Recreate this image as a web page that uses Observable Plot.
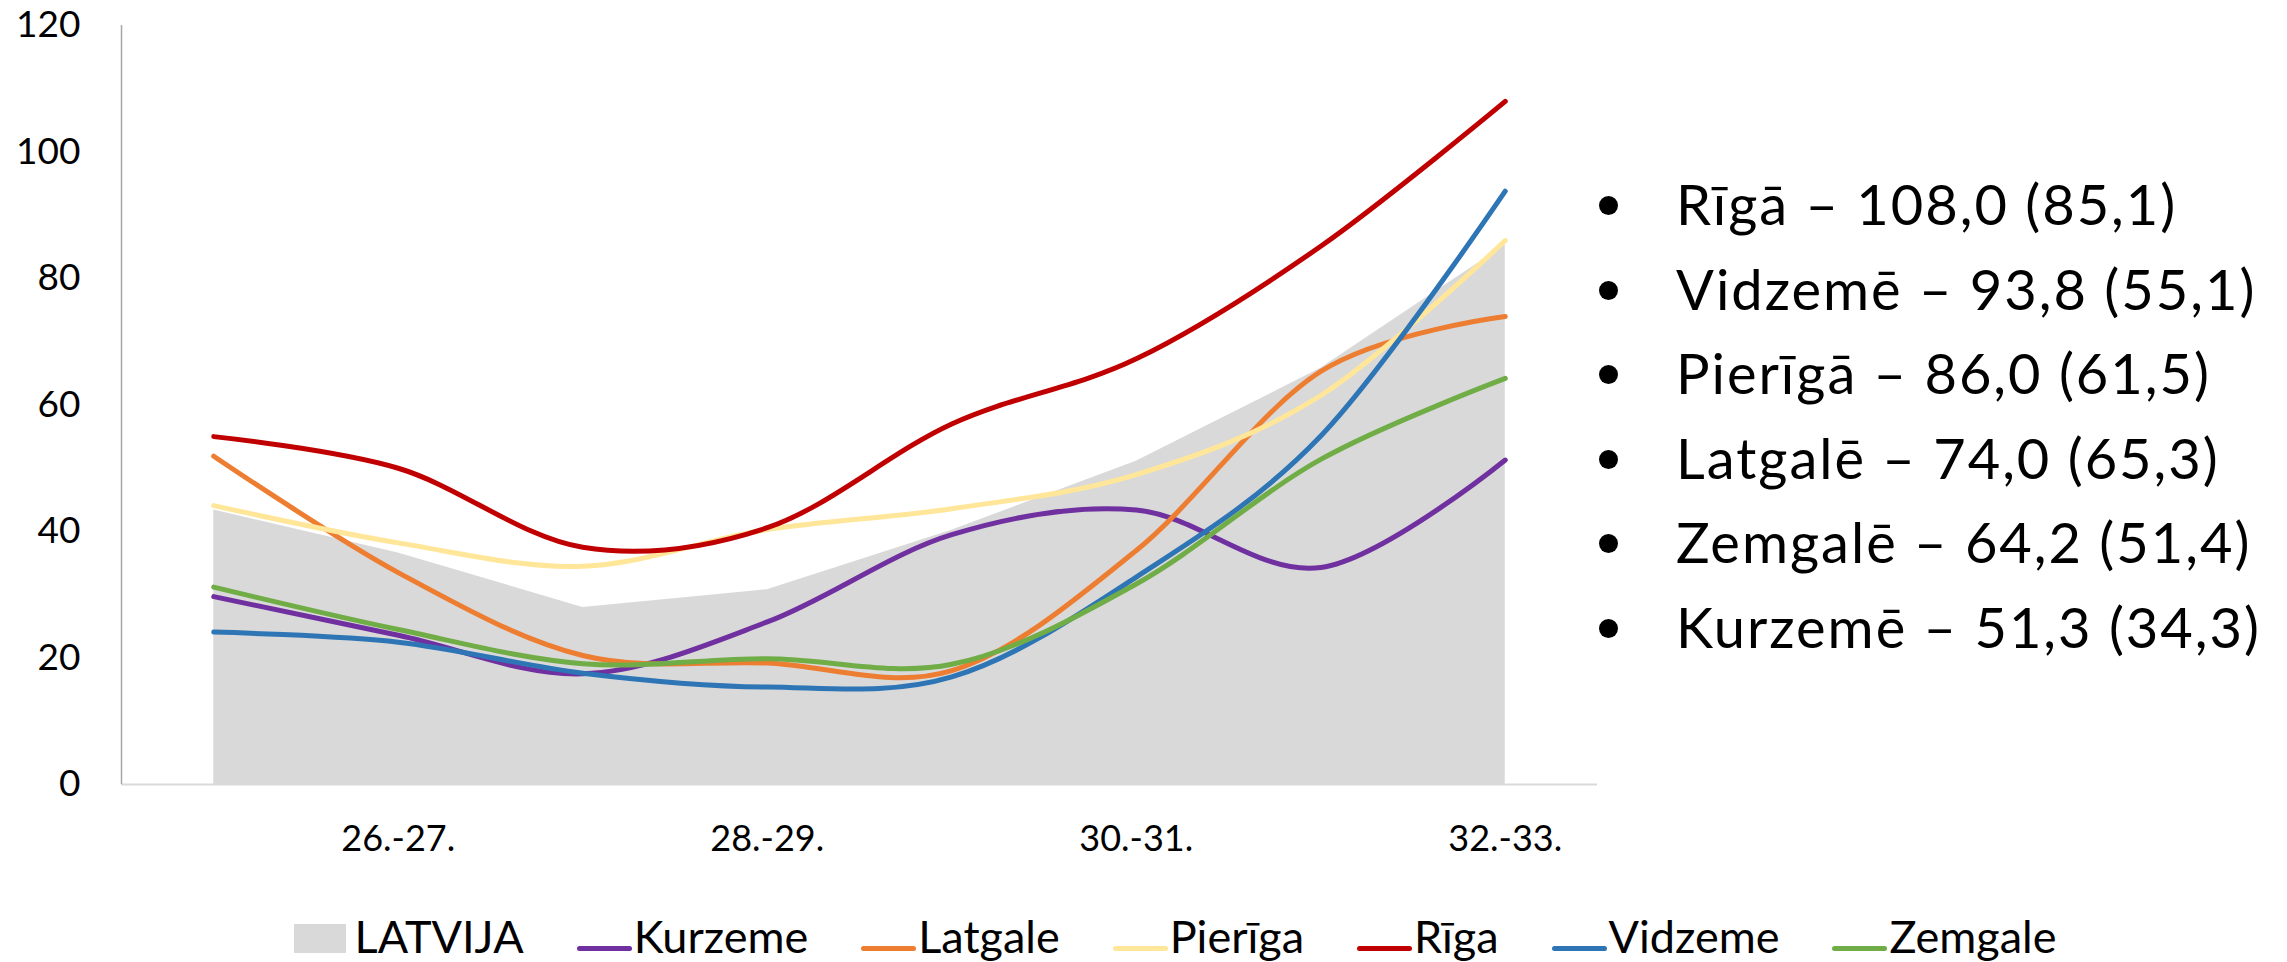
<!DOCTYPE html>
<html>
<head>
<meta charset="utf-8">
<script src="https://cdn.jsdelivr.net/npm/d3@7"></script>
<script src="https://cdn.jsdelivr.net/npm/@observablehq/plot@0.6"></script>
<style>
  body { margin: 0; background: #fff; font-family: Lato, sans-serif; }
  #wrap { position: relative; width: 2287px; height: 962px; overflow: hidden; }
  #chart { position: absolute; left: 0; top: 0; }
  #legend { position: absolute; left: 282px; top: 906px; width: 1786px; height: 60px;
            display: flex; justify-content: center; font-size: 45px; line-height: 60px; color: #000; white-space: nowrap; }
  #legend .item { margin-right: 53px; }
  #legend .item:last-child { margin-right: 0; }
  #legend .sw-rect { display: inline-block; width: 52px; height: 29px; vertical-align: baseline; margin-right: 9px; }
  #legend .sw-line { display: inline-block; width: 55px; height: 5px; border-radius: 3px; vertical-align: baseline; margin-bottom: 2px; margin-right: 2px; }
  #list { position: absolute; left: 1598px; top: 162px; font-size: 56px; color: #000; }
  #list .row { position: relative; height: 84.5px; line-height: 84.5px; white-space: nowrap; }
  #list .dot { position: absolute; left: 1px; top: 34px; width: 19px; height: 19px; border-radius: 50%; background: #000; }
  #list .txt { position: absolute; left: 78px; top: 0; letter-spacing: 2px; }
</style>
</head>
<body>
<div id="wrap">
  <div id="chart"></div>
  <div id="legend"></div>
  <div id="list"></div>
</div>
<script>
// ---- data ----
const tickIndex = [1, 3, 5, 7];
const tickLabels = ["26.-27.", "28.-29.", "30.-31.", "32.-33."];
const yTicks = [0, 20, 40, 60, 80, 100, 120];

const latvija = [43.4, 36.6, 28.0, 30.8, 40.2, 51.1, 65.8, 85.3];
const kurzeme = [29.7, 23.6, 17.5, 25.7, 39.5, 43.4, 34.3, 51.3];
const latgale = [51.9, 33.5, 20.4, 19.2, 18.0, 37.0, 65.3, 74.0];
const pieriga = [44.1, 38.2, 34.5, 40.3, 43.6, 49.0, 61.5, 86.0];
const riga    = [55.0, 50.0, 37.5, 40.6, 57.0, 67.3, 85.1, 108.0];
const vidzeme = [24.1, 22.5, 17.6, 15.4, 17.0, 32.8, 55.1, 93.8];
const zemgale = [31.2, 24.5, 19.1, 19.9, 19.0, 31.7, 51.4, 64.2];

const seriesNames = ["Kurzeme", "Latgale", "Pierīga", "Rīga", "Vidzeme", "Zemgale"];
const seriesLocative = ["Kurzemē", "Latgalē", "Pierīgā", "Rīgā", "Vidzemē", "Zemgalē"];
const seriesValues = [kurzeme, latgale, pieriga, riga, vidzeme, zemgale];
const seriesColors = ["#7030A0", "#ED7D31", "#FFE699", "#C00000", "#2E75B6", "#70AD47"];
const areaName = "LATVIJA";
const areaColor = "#D9D9D9";

// ---- chart ----
const toRows = (vals) => vals.map((v, i) => ({i, v}));

const lineMarks = seriesValues.map((vals, k) =>
  Plot.line(toRows(vals), {
    x: "i", y: "v", stroke: seriesColors[k], strokeWidth: 5,
    curve: "cardinal", strokeLinecap: "round", strokeLinejoin: "round"
  })
);

const chart = Plot.plot({
  width: 2287,
  height: 880,
  marginLeft: 121,
  marginRight: 690,
  marginTop: 25,
  marginBottom: 96,
  x: {type: "linear", domain: [-0.5, 7.5], label: null},
  y: {domain: [0, 120], label: null},
  style: {fontFamily: "Lato, sans-serif", fontSize: "36px", color: "#000", background: "transparent", overflow: "visible"},
  marks: [
    Plot.areaY(toRows(latvija), {x: "i", y: "v", fill: areaColor, curve: "linear"}),
    Plot.ruleY([0], {stroke: "#D9D9D9", strokeWidth: 2}),
    Plot.ruleX([-0.5], {y1: 0, y2: 120, stroke: "#A6A6A6", strokeWidth: 1.5}),
    ...lineMarks,
    Plot.axisY({ticks: yTicks, tickSize: 0, tickPadding: 41, fontSize: 37, label: null}),
    Plot.axisX({ticks: tickIndex, tickFormat: (d) => tickLabels[tickIndex.indexOf(d)], tickSize: 0, tickPadding: 41, fontSize: 36, label: null})
  ]
});
document.getElementById("chart").appendChild(chart);

// ---- legend ----
const legend = document.getElementById("legend");
{
  const it = document.createElement("span");
  it.className = "item";
  it.innerHTML = `<span class="sw-rect" style="background:${areaColor}"></span>${areaName}`;
  legend.appendChild(it);
}
seriesNames.forEach((name, k) => {
  const it = document.createElement("span");
  it.className = "item";
  it.innerHTML = `<span class="sw-line" style="background:${seriesColors[k]}"></span>${name}`;
  legend.appendChild(it);
});

// ---- right-hand list: latest (previous) values, sorted by latest ----
const fmt = (v) => v.toFixed(1).replace(".", ",");
const order = d3.range(seriesValues.length).sort((a, b) =>
  seriesValues[b][seriesValues[b].length - 1] - seriesValues[a][seriesValues[a].length - 1]);
const list = document.getElementById("list");
order.forEach((k) => {
  const vals = seriesValues[k];
  const row = document.createElement("div");
  row.className = "row";
  row.innerHTML = `<span class="dot"></span><span class="txt">${seriesLocative[k]} – ${fmt(vals[vals.length - 1])} (${fmt(vals[vals.length - 2])})</span>`;
  list.appendChild(row);
});
</script>
</body>
</html>
